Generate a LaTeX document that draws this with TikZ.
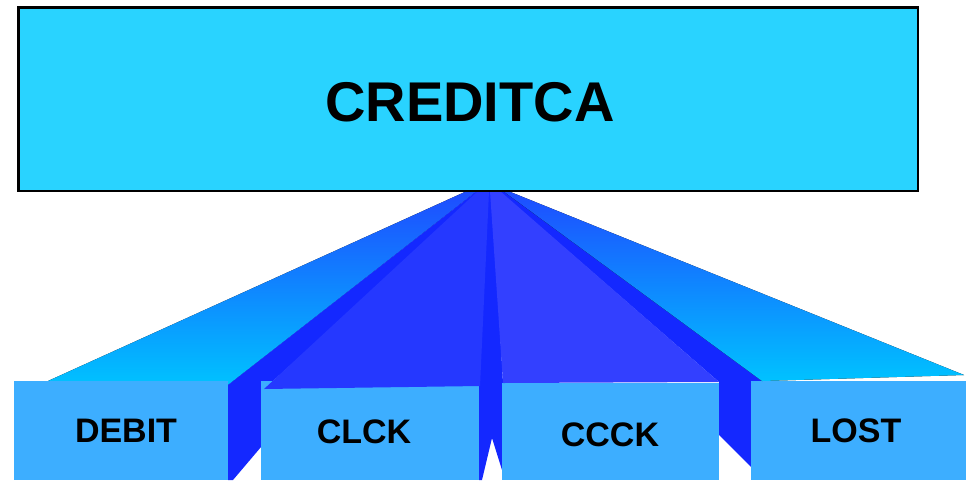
\documentclass[tikz,border=0pt]{standalone}
\usepackage{fontspec}
\setmainfont{Liberation Sans}
\begin{document}
\begin{tikzpicture}[x=1pt,y=-1pt]
\definecolor{topfill}{HTML}{29D3FF}
\definecolor{childfill}{HTML}{3DAEFF}
\definecolor{sideblue}{HTML}{1428FF}
\definecolor{clckface}{HTML}{2538FF}
\definecolor{ccckface}{HTML}{3340FF}
\definecolor{fantop}{HTML}{1E4CFF}
\definecolor{fanbottom}{HTML}{00C2FF}
\tikzset{
  parentbox/.style={draw=black, line width=2.5pt, fill=topfill, inner sep=0pt,
    minimum width=899.5pt, minimum height=183.5pt},
  childbox/.style={fill=childfill, draw=none, inner sep=0pt},
  parenttext/.style={font=\fontsize{56}{56}\selectfont\bfseries, inner sep=0pt},
  childtext/.style={font=\fontsize{34}{34}\selectfont\bfseries, inner sep=0pt},
  sideface/.style={fill=sideblue, draw=none},
  fanface/.style={top color=fantop, bottom color=fanbottom, draw=none},
}
\useasboundingbox (0,0) rectangle (968,480);

% outer fan face towards DEBIT, and the side face between DEBIT and CLCK
\fill[fanface] (467,191) -- (477,191) -- (228,385) -- (48,381) -- cycle;
\fill[sideface] (477,191) -- (484,191) -- (264,389) -- (261,389) -- (261,447)
  -- (233,480) -- (228,480) -- (228,385) -- cycle;

% side strip between CLCK and CCCK, with its notch
\fill[sideface] (488,191) -- (492,191) -- (503,383) -- (502,470) -- (492,438)
  -- (482,480) -- (479,480) -- (479,386) -- cycle;

% side face between CCCK and LOST
\fill[sideface] (499,191) -- (506,191) -- (762,381) -- (751,381) -- (751,467)
  -- (719,435) -- (719,382) -- cycle;

% child boxes
\node[childbox, minimum width=214pt, minimum height=99pt] (debit) at (121,430.5) {};
\node[childbox, minimum width=218pt, minimum height=99pt] (clck) at (370,430.5) {};
\node[childbox, minimum width=217pt, minimum height=97pt] (ccck) at (610.5,431.5) {};
\node[childbox, minimum width=215pt, minimum height=99pt] (lost) at (858.5,430.5) {};

% front faces of the fan
\fill[clckface] (478,191) -- (489,191) -- (480,386) -- (264,389) -- cycle;
\fill[ccckface] (490,191) -- (500,191) -- (719,382) -- (503,383) -- cycle;
\fill[fanface] (503,191) -- (508,191) -- (964,375) -- (762,381) -- cycle;

% labels of the child boxes
\node[childtext] (debitlabel) at (126,431) {DEBIT};
\node[childtext] (clcklabel) at (364,432) {CLCK};
\node[childtext] (cccklabel) at (610,435) {CCCK};
\node[childtext] (lostlabel) at (856,431) {LOST};

% parent box
\node[parentbox] (creditca) at (468,99) {};
\node[parenttext] (creditcalabel) at (470,102.5) {CREDITCA};
\end{tikzpicture}
\end{document}
